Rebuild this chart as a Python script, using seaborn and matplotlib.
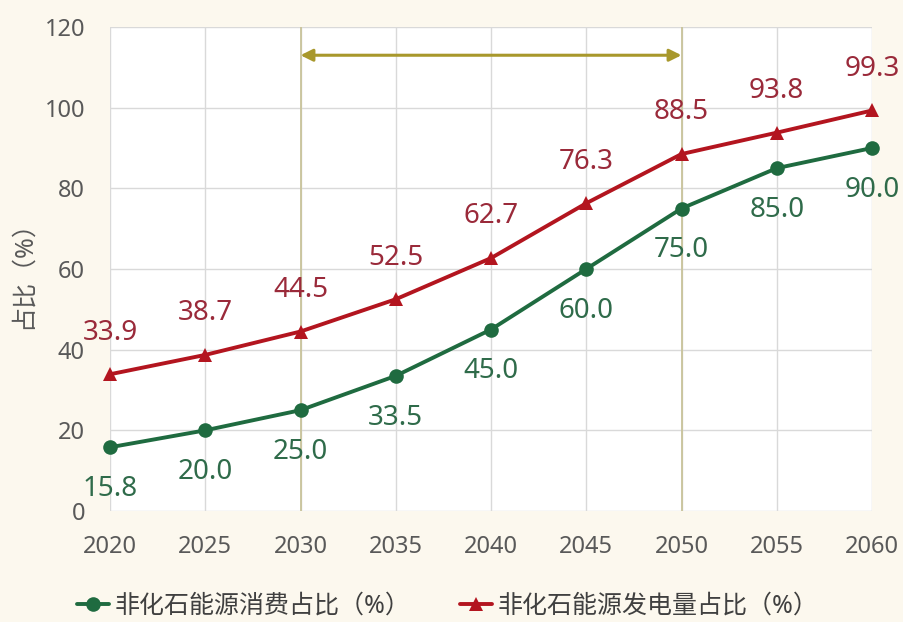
import matplotlib
matplotlib.use("Agg")
import matplotlib.pyplot as plt
import seaborn as sns
import pandas as pd

# Data: share of non-fossil energy (%)
years = [2020, 2025, 2030, 2035, 2040, 2045, 2050, 2055, 2060]
consumption_share = [15.8, 20.0, 25.0, 33.5, 45.0, 60.0, 75.0, 85.0, 90.0]
generation_share = [33.9, 38.7, 44.5, 52.5, 62.7, 76.3, 88.5, 93.8, 99.3]
series_names = ["非化石能源消费占比（%）", "非化石能源发电量占比（%）"]
y_ticks = [0, 20, 40, 60, 80, 100, 120]
span_years = [2030, 2050]
span_level = 113

green = "#1f6b40"
red = "#b3151f"
green_text = "#2f6b4a"
red_text = "#9a2a3a"
cream = "#fcf8ee"

sns.set_theme(style="white")
plt.rcParams["font.family"] = ["Noto Sans", "Noto Sans CJK SC", "DejaVu Sans"]

df = pd.DataFrame({
    "year": years * 2,
    "value": consumption_share + generation_share,
    "series": [series_names[0]] * len(years) + [series_names[1]] * len(years),
})

fig = plt.figure(figsize=(9.04, 6.22), dpi=100, facecolor=cream)
ax = fig.add_axes([110 / 904, 1 - 511 / 622, 762 / 904, 484 / 622])
ax.set_facecolor("white")

sns.lineplot(data=df, x="year", y="value", hue="series", style="series",
             palette=[green, red], markers=["o", "^"], dashes=False,
             linewidth=2.8, markersize=10.5, markeredgewidth=0,
             ax=ax, legend=True, clip_on=False, zorder=4)

ax.set_xlim(2020, 2060)
ax.set_ylim(0, 120)
ax.set_xticks(years)
ax.set_yticks(y_ticks)
ax.grid(True, color="#d9d9d9", linewidth=1.0)
for s in ax.spines.values():
    s.set_visible(False)
ax.tick_params(axis="both", length=0, labelsize=17, labelcolor="#595959")
ax.tick_params(axis="x", pad=17)
ax.tick_params(axis="y", pad=18)
ax.set_xlabel("")
ax.set_ylabel("占比（%）", fontsize=18, color="#595959", labelpad=6)

# Vertical markers and double arrow for the 2030-2050 span
for yr in span_years:
    ax.axvline(yr, color="#c9c39a", linewidth=1.3, zorder=2)
ax.annotate("", xy=(span_years[1], span_level), xytext=(span_years[0], span_level),
            arrowprops=dict(arrowstyle="<|-|>", color="#a8982c", lw=2.2,
                            mutation_scale=18, shrinkA=0, shrinkB=0),
            zorder=3)

# Value labels
for x, v in zip(years, generation_share):
    ax.annotate(f"{v:.1f}", (x, v), xytext=(0, 30), textcoords="offset points",
                ha="center", va="center", fontsize=20, color=red_text,
                annotation_clip=False)
for x, v in zip(years, consumption_share):
    ax.annotate(f"{v:.1f}", (x, v), xytext=(0, -30), textcoords="offset points",
                ha="center", va="center", fontsize=20, color=green_text,
                annotation_clip=False)

handles, labels = ax.get_legend_handles_labels()
ax.get_legend().remove()
fig.legend(handles, labels, loc="center", bbox_to_anchor=(0.495, 1 - 606 / 622),
           ncol=2, frameon=False, fontsize=18, labelcolor="#404040",
           handlelength=1.3, handletextpad=0.2, columnspacing=2.0)

fig.savefig("out.png", dpi=100, facecolor=cream)
